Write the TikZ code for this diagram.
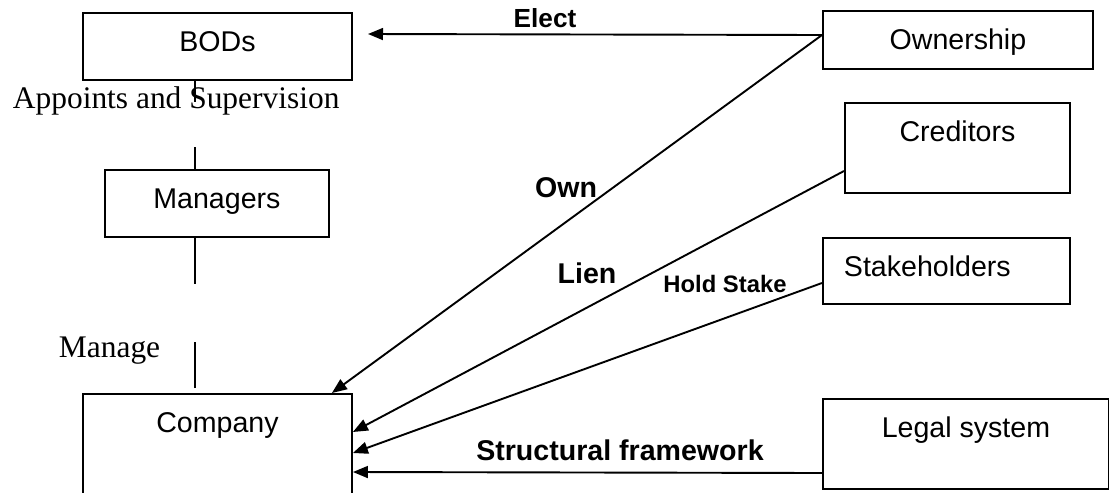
\documentclass[tikz,border=0pt]{standalone}
\usepackage{fontspec}
\setmainfont{Liberation Sans}
\newfontfamily\serifface{Liberation Serif}
\usetikzlibrary{arrows.meta}

\begin{document}
\begin{tikzpicture}[x=0.42pt,y=-0.42pt,line width=0.8pt,
	box/.style={draw,anchor=north west,inner sep=0pt,text height=16pt,font=\fontsize{12}{14}\selectfont},
	lbl/.style={anchor=base,inner sep=0pt,font=\bfseries\fontsize{12}{14}\selectfont},
	note/.style={anchor=base west,inner sep=0pt,font=\serifface\fontsize{13.2}{15}\selectfont},
	arr/.style={-{Triangle[length=6.3pt,width=5pt]}}]
	\useasboundingbox (0,0) rectangle (1109,492);
	\clip (0,0) rectangle (1109,492);
	
	% left column
	\node[box,minimum width=112.98pt,text depth=12.18pt](bods)at(82,12){BODs};
	\node[box,minimum width=94.08pt,text depth=12.18pt](mgr)at(104,169){Managers};
	\node[box,minimum width=112.98pt,text depth=34.44pt](comp)at(82,393){Company};
	
	% right column
	\node[box,minimum width=113.4pt,text depth=8.4pt](own)at(822,10){Ownership};
	\node[box,minimum width=94.5pt,text depth=21.84pt](cred)at(844,102){Creditors};
	\node[box,inner xsep=8.82pt,text width=86.1pt,align=left,text depth=11.76pt](stake)at(822,237){Stakeholders};
	\node[box,minimum width=120.12pt,text depth=21.84pt](legal)at(822,398){Legal system};
	
	\node[note](appt)at(12,108){Appoints and Supervision};
	\node[note](mng)at(58,357){Manage};
	
	\draw([xshift=-9.45pt]bods.south)--++(0,21);
	\draw([xshift=-9.24pt]mgr.north)--++(0,-22);
	\draw([xshift=-9.24pt]mgr.south)--++(0,46);
	\draw([xshift=-9.45pt,yshift=2.1pt]comp.north)--++(0,-46);
	
	% arrows into BODs and Company
	\coordinate(electend)at(368,34);
	\draw[arr]([yshift=2.1pt]own.west)--(electend);
	\draw[arr]([yshift=2.1pt]own.west)--([xshift=-8.82pt]comp.north east);
	\draw[arr]([yshift=-9.66pt]cred.west)--([yshift=-16.38pt]comp.north east);
	\draw[arr]([yshift=-5.04pt]stake.west)--([yshift=-25.2pt]comp.north east);
	\draw[arr]([yshift=-12.18pt]legal.west)--([yshift=-33.18pt]comp.north east);
	
	\node[lbl,font=\bfseries\fontsize{11}{13}\selectfont](elect)at(545,27){Elect};
	\node[lbl](ownl)at(566,197){Own};
	\node[lbl](lien)at(587,283){Lien};
	\node[lbl,font=\bfseries\fontsize{10}{12}\selectfont](hold)at(725,292){Hold Stake};
	\node[lbl](frame)at(620,460){Structural framework};
\end{tikzpicture}
\end{document}
